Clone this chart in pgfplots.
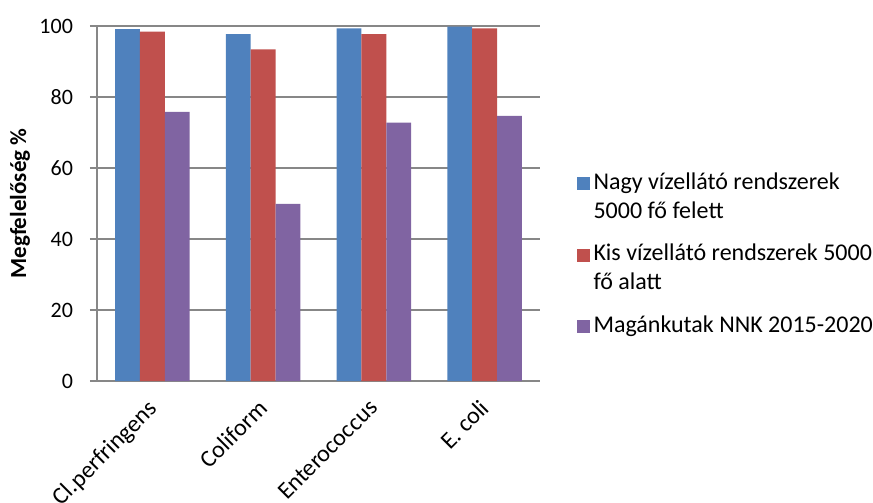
\documentclass[border=0pt]{standalone}
\usepackage{fontspec}
\setmainfont{Carlito}
\usepackage{pgfplots}
\pgfplotsset{compat=1.18}

\definecolor{serA}{HTML}{4F81BD}
\definecolor{serB}{HTML}{C0504D}
\definecolor{serC}{HTML}{8064A2}
\definecolor{gridc}{HTML}{878787}

\pgfplotsset{
  sqlegend/.style={
    legend image code/.code={\fill[##1] (0pt,3.3pt) rectangle (6.5pt,9.8pt);}
  }
}

\begin{document}
\begin{tikzpicture}
\useasboundingbox (-48.5pt,-61pt) rectangle (388pt,190.5pt);
\begin{axis}[
  at={(0,0)}, anchor=south west,
  scale only axis, width=221.5pt, height=177.5pt,
  xmin=-0.5, xmax=3.5, ymin=0, ymax=100,
  ybar=0pt, bar width=12.4pt,
  xtick={0,1,2,3},
  xticklabels={Cl.perfringens, Coliform, Enterococcus, E. coli},
  ytick={0,20,...,100},
  ymajorgrids, grid style={gridc, line width=0.9pt},
  axis x line*=bottom, axis y line*=left,
  axis line style={gridc, line width=0.9pt, -},
  x tick style={draw=none},
  y tick style={gridc, line width=0.9pt},
  major tick length=3.5pt, tick align=outside,
  font=\fontsize{11}{13}\selectfont,
  /pgf/number format/assume math mode=true,
  xticklabel style={xshift=-3pt, yshift=-3.5pt, rotate=45, anchor=north east,
    inner sep=1pt, font=\fontsize{12}{14}\selectfont},
  yticklabel style={anchor=east, xshift=-5pt},
  ylabel={\textbf{Megfelelőség \%}},
  ylabel style={at={(axis description cs:-0.174,0.5)}, anchor=center,
    font=\fontsize{11.5}{14}\selectfont},
  legend style={draw=none, fill=none, at={(1.068,0.3175)}, anchor=west,
    font=\fontsize{12}{14.3}\selectfont, row sep=7.5pt,
    nodes={align=left}},
  legend cell align=left,
]
\addplot[fill=serA, draw=none, sqlegend] coordinates {(0,99.1) (1,97.7) (2,99.3) (3,99.8)};
\addplot[fill=serB, draw=none, sqlegend] coordinates {(0,98.4) (1,93.4) (2,97.7) (3,99.3)};
\addplot[fill=serC, draw=none, sqlegend] coordinates {(0,75.8) (1,49.9) (2,72.8) (3,74.7)};
\legend{{Nagy vízellátó rendszerek\\5000 fő felett},
        {Kis vízellátó rendszerek 5000\\fő alatt},
        {Magánkutak NNK 2015-2020\\\mbox{}}}
\end{axis}
\end{tikzpicture}
\end{document}
